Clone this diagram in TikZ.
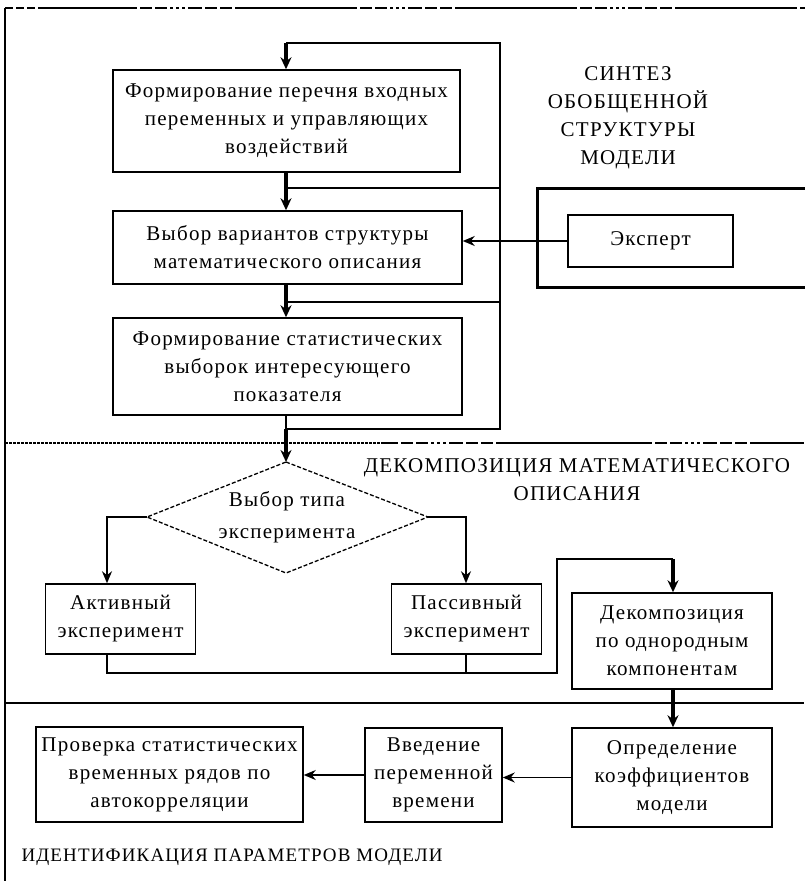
\documentclass[tikz,border=0pt]{standalone}
\usepackage{fontspec}
\setmainfont{Liberation Serif}[LetterSpace=6]
\usetikzlibrary{arrows.meta}
% a dash-dot group of a divider line: #1 = start x, #2 = y, #3 = line width
\newcommand{\dashgrp}[3]{%
  \draw[white, line width=#3+1pt] (#1,#2) -- ++(110,0);
  \draw[line width=#3, dash pattern=on 12pt off 3pt] (#1,#2) -- ++(45,0);
  \draw[line width=#3, dash pattern=on 3pt off 3pt] (#1+45,#2) -- ++(20,0);
  \draw[line width=#3, dash pattern=on 12pt off 3pt] (#1+65,#2) -- ++(45,0);
}
\begin{document}
\begin{tikzpicture}[x=1pt,y=-1pt,
  txt/.style={font=\fontsize{21}{28}\selectfont, align=center},
  box/.style={draw, line width=1.5pt, txt, inner sep=0pt},
  conn/.style={line width=1.5pt},
  arr/.style={line width=1.5pt, -{Stealth[length=12pt,width=10pt]}},
  tharr/.style={line width=3.5pt, -{Stealth[length=12pt,width=11pt]}},
  border/.style={line width=2.5pt}
]
\useasboundingbox (0,0) rectangle (804,881);
% top divider
\draw[line width=2pt] (5,8) -- (804,8);
\draw[white, line width=3pt] (5,8) -- (40,8);
\draw[line width=2pt, dash pattern=on 8pt off 3pt] (5,8) -- (40,8);
\dashgrp{125}{8}{2pt}
\dashgrp{345}{8}{2pt}
\dashgrp{565}{8}{2pt}
\dashgrp{785}{8}{2pt}
% middle divider
\draw[line width=2.5pt, dash pattern=on 3pt off 1pt] (5,443) -- (383,443);
\draw[line width=1.5pt] (383,443) -- (804,443);
\dashgrp{386}{443}{1.5pt}
\dashgrp{640}{443}{1.5pt}
% bottom divider
\draw[line width=2.5pt] (5,703) -- (804,703);
% left border
\draw[border] (5,8) -- (5,881);
% expert frame
\draw[line width=3pt] (810,188) -- (537,188) -- (537,287) -- (810,287);

% section titles
\node[txt] (t1) at (628,118) {СИНТЕЗ\\ОБОБЩЕННОЙ\\СТРУКТУРЫ\\МОДЕЛИ};
\node[txt] (t2) at (577,480) {ДЕКОМПОЗИЦИЯ МАТЕМАТИЧЕСКОГО\\ОПИСАНИЯ};
\node[txt, font=\fontsize{19}{28}\selectfont, anchor=west] (t3) at (18,857) {ИДЕНТИФИКАЦИЯ ПАРАМЕТРОВ МОДЕЛИ};

% boxes
\node[box, minimum width=347pt, minimum height=102pt] (b1) at (286.5,121) {Формирование перечня входных\\переменных и управляющих\\воздействий};
\node[box, minimum width=349pt, minimum height=73pt] (b2) at (287.5,247.5) {Выбор вариантов структуры\\математического описания};
\node[box, minimum width=349pt, minimum height=97pt] (b3) at (287.5,366.5) {Формирование статистических\\выборок интересующего\\показателя};
\node[box, minimum width=165pt, minimum height=52pt] (exp) at (650.5,241) {Эксперт};
\node[box, minimum width=150pt, minimum height=70pt] (act) at (120.5,619) {Активный\\эксперимент};
\node[box, minimum width=150pt, minimum height=70pt] (pas) at (466.5,619) {Пассивный\\эксперимент};
\node[box, minimum width=200pt, minimum height=96pt] (dec) at (672,641) {Декомпозиция\\по однородным\\компонентам};
\node[box, minimum width=200pt, minimum height=99pt] (opr) at (672,777.5) {Определение\\коэффициентов\\модели};
\node[box, minimum width=137pt, minimum height=94pt] (vve) at (433.5,775) {Введение\\переменной\\времени};
\node[box, minimum width=267pt, minimum height=95pt] (pro) at (169.5,774.5) {Проверка статистических\\временных рядов по\\автокорреляции};

% diamond
\coordinate (dt) at (286,462);
\coordinate (dl) at (147,517);
\coordinate (dr) at (428,517);
\coordinate (db) at (286,573);
\draw[line width=1.3pt, dash pattern=on 4pt off 2pt] (dt) -- (dr) -- (db) -- (dl) -- cycle;
\node[txt, font=\fontsize{21}{32}\selectfont] (dia) at (287,517) {Выбор типа\\эксперимента};

% loop in the top section
\coordinate (lt) at (286,43);
\coordinate (rt) at (500,43);
\coordinate (rb) at (500,429);
\coordinate (lb) at (286,429);
\coordinate (j1) at (286,188);
\coordinate (j2) at (286,302);
\draw[conn] (lt) -- (rt) -- (rb) -- (lb);
\draw[conn] (j1) -- (j1 -| rt);
\draw[conn] (j2) -- (j2 -| rt);
\draw[tharr] (lt) -- (lt |- b1.north);
\draw[tharr] (b1.south -| lt) -- (b2.north -| lt);
\draw[tharr] (b2.south -| lt) -- (b3.north -| lt);
\draw[conn] (b3.south -| lt) -- (lb);
\draw[tharr] (lb) -- (dt);
\draw[arr] (exp.west) -- (exp.west -| b2.east);

% branches of the diamond
\coordinate (al) at (107,517);
\coordinate (ar) at (466,517);
\draw[arr] (dl) -- (al) -- (al |- act.north);
\draw[arr] (dr) -- (ar) -- (ar |- pas.north);
\coordinate (ab) at (107,673);
\coordinate (c1) at (557,673);
\coordinate (c2) at (557,559);
\coordinate (c3) at (673,559);
\draw[conn] (al |- act.south) -- (ab) -- (c1) -- (c2) -- (c3);
\draw[conn] (ar |- pas.south) -- (ar |- ab);
\draw[tharr] (c3) -- (c3 |- dec.north);
\draw[tharr] (dec.south -| c3) -- (opr.north -| c3);
\draw[arr] (opr.west) -- (opr.west -| vve.east);
\draw[arr] (vve.west) -- (vve.west -| pro.east);
\end{tikzpicture}
\end{document}
